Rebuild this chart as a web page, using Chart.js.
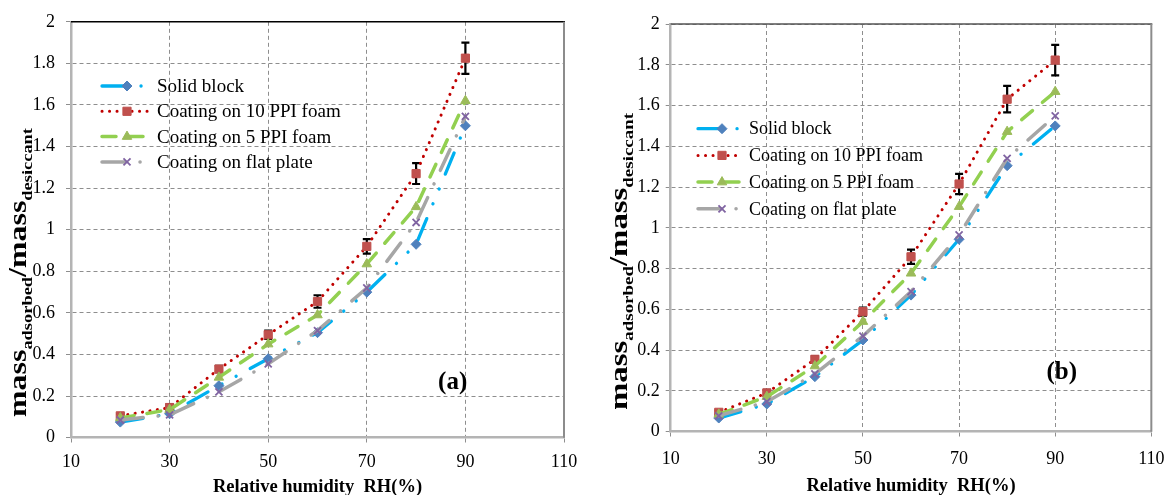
<!DOCTYPE html>
<html><head><meta charset="utf-8">
<script src="https://cdn.jsdelivr.net/npm/chart.js@4.4.1/dist/chart.umd.min.js"></script>
<style>
html,body{margin:0;padding:0;background:#fff;width:1176px;height:495px;overflow:hidden}
.box{position:absolute;top:0;height:495px}
#boxA{left:0;width:590px}
#boxB{left:590px;width:586px}
canvas{display:block}
</style></head><body>
<div class="box" id="boxA"><canvas id="chartA" width="590" height="495"></canvas></div>
<div class="box" id="boxB"><canvas id="chartB" width="586" height="495"></canvas></div>
<script>
// ---------- data ----------
const seriesNames = ['Solid block', 'Coating on 10 PPI foam', 'Coating on 5 PPI foam', 'Coating on flat plate'];
const rhValues = [20, 30, 40, 50, 60, 70, 80, 90];
const xTickLabels = ['10', '30', '50', '70', '90', '110'];
const yTickLabels = ['0', '0.2', '0.4', '0.6', '0.8', '1', '1.2', '1.4', '1.6', '1.8', '2'];
const xAxisTitle = 'Relative humidity  RH(%)';
const yTitleParts = ['mass', 'adsorbed', '/mass', 'desiccant'];
const panelLabels = ['(a)', '(b)'];

// panel (a)
const solidBlockA = [0.075, 0.115, 0.25, 0.38, 0.505, 0.70, 0.93, 1.50];
const foam10A     = [0.105, 0.145, 0.33, 0.495, 0.655, 0.92, 1.27, 1.825];
const foam5A      = [0.095, 0.135, 0.29, 0.45, 0.59, 0.835, 1.11, 1.62];
const flatPlateA  = [0.085, 0.11, 0.22, 0.355, 0.515, 0.72, 1.035, 1.545];
const foam10ErrA  = [0.01, 0.015, 0.015, 0.02, 0.03, 0.035, 0.05, 0.075];

// panel (b)
const solidBlockB = [0.067, 0.136, 0.27, 0.45, 0.67, 0.944, 1.305, 1.50];
const foam10B     = [0.095, 0.19, 0.355, 0.589, 0.858, 1.215, 1.631, 1.823];
const foam5B      = [0.085, 0.172, 0.322, 0.54, 0.777, 1.104, 1.472, 1.668];
const flatPlateB  = [0.078, 0.147, 0.283, 0.469, 0.687, 0.965, 1.341, 1.549];
const foam10ErrB  = [0.01, 0.015, 0.015, 0.02, 0.035, 0.05, 0.065, 0.075];

// ---------- styles ----------
const FONT = '"Liberation Serif", "DejaVu Serif", serif';
const styles = [
  {line:'#00B0F0', dash:[23,16,0.1,16,0.1,16], width:3.3, point:'rectRot', r:5, fill:'#4F81BD', stroke:'#4F81BD', pw:1},
  {line:'#C00000', dash:[0.1,7.4], width:3, point:'rect', r:5.8, fill:'#C0504D', stroke:'#C0504D', pw:1},
  {line:'#92D050', dash:[14,13], width:3.5, point:'triangle', r:5.5, fill:'#9BBB59', stroke:'#9BBB59', pw:1},
  {line:'#A6A6A6', dash:[23,15,0.1,15], width:3.5, point:'crossRot', r:5, fill:'#8064A2', stroke:'#8064A2', pw:1.8}
];

// ---------- plugins ----------
const errorBarPlugin = {
  id: 'errorBars',
  beforeDatasetsDraw(chart, args, o) {
    const c = chart.ctx, xs = chart.scales.x, ys = chart.scales.y;
    const vals = chart.data.datasets[o.seriesIndex].data;
    c.save();
    c.strokeStyle = '#000'; c.lineWidth = 2.2; c.setLineDash([]);
    vals.forEach((p, i) => {
      const e = o.errors[i];
      const px = xs.getPixelForValue(p.x);
      const yt = ys.getPixelForValue(p.y + e), yb = ys.getPixelForValue(p.y - e);
      c.beginPath();
      c.moveTo(px, yt); c.lineTo(px, yb);
      c.moveTo(px - 4, yt); c.lineTo(px + 4, yt);
      c.moveTo(px - 4, yb); c.lineTo(px + 4, yb);
      c.stroke();
    });
    c.restore();
  }
};

const framePlugin = {
  id: 'frame',
  beforeDatasetsDraw(chart, args, o) {
    const c = chart.ctx, a = chart.chartArea;
    c.save(); c.setLineDash([]);
    c.strokeStyle = o.topColor; c.lineWidth = 1.6;
    c.beginPath(); c.moveTo(a.left, a.top); c.lineTo(a.right + 1, a.top); c.stroke();
    c.strokeStyle = '#8C8C8C'; c.lineWidth = 2;
    c.beginPath(); c.moveTo(a.right, a.top); c.lineTo(a.right, a.bottom); c.stroke();
    c.restore();
  }
};

const legendPlugin = {
  id: 'boxLegend',
  afterDraw(chart, args, o) {
    const c = chart.ctx;
    chart.data.datasets.forEach((ds, i) => {
      const y = o.top + i * o.gap;
      c.save();
      c.strokeStyle = ds.borderColor; c.lineWidth = ds.borderWidth;
      c.setLineDash(ds.borderDash); c.lineCap = 'round';
      c.beginPath(); c.moveTo(o.x0, y); c.lineTo(o.x1, y); c.stroke();
      c.setLineDash([]); c.lineCap = 'butt';
      c.fillStyle = ds.pointBackgroundColor; c.strokeStyle = ds.pointBorderColor; c.lineWidth = ds.pointBorderWidth;
      Chart.helpers.drawPoint(c, {pointStyle: ds.pointStyle, radius: ds.pointRadius, rotation: 0, borderWidth: ds.pointBorderWidth}, o.xm, y);
      c.fillStyle = '#000'; c.font = o.size + 'px ' + FONT;
      c.textAlign = 'left'; c.textBaseline = 'middle';
      c.fillText(ds.label, o.tx, y + 1);
      c.restore();
    });
  }
};

const yTitlePlugin = {
  id: 'yTitle',
  afterDraw(chart, args, o) {
    const c = chart.ctx;
    const fm = 'bold ' + o.main + 'px ' + FONT, fs = 'bold ' + o.sub + 'px ' + FONT;
    c.save();
    const widths = yTitleParts.map((t, i) => { c.font = (i % 2) ? fs : fm; return c.measureText(t).width; });
    const total = widths.reduce((a, b) => a + b, 0);
    c.translate(o.x, o.yStart);
    c.rotate(-Math.PI / 2);
    c.scale(o.length / total, 1);
    c.fillStyle = '#000'; c.textBaseline = 'alphabetic'; c.textAlign = 'left';
    let x = 0;
    yTitleParts.forEach((t, i) => {
      c.font = (i % 2) ? fs : fm;
      c.fillText(t, x, (i % 2) ? o.subShift : 0);
      x += widths[i];
    });
    c.restore();
  }
};

const panelLabelPlugin = {
  id: 'panelLabel',
  afterDraw(chart, args, o) {
    const c = chart.ctx;
    c.save();
    c.fillStyle = '#000'; c.font = 'bold 25px ' + FONT;
    c.textAlign = 'center'; c.textBaseline = 'middle';
    c.fillText(o.text, o.x, o.y);
    c.restore();
  }
};

// ---------- factory ----------
function makeChart(id, series, errors, L) {
  const datasets = series.map((vals, i) => {
    const s = styles[i];
    return {
      label: seriesNames[i],
      data: rhValues.map((x, j) => ({x: x, y: vals[j]})),
      showLine: true, tension: 0, order: 3 - i,
      borderColor: s.line, borderWidth: s.width, borderDash: s.dash,
      borderCapStyle: 'round', borderJoinStyle: 'round',
      pointStyle: s.point, pointRadius: s.r, pointHoverRadius: s.r,
      pointBackgroundColor: s.fill, pointBorderColor: s.stroke, pointBorderWidth: s.pw
    };
  });
  return new Chart(document.getElementById(id), {
    type: 'scatter',
    data: {datasets: datasets},
    options: {
      responsive: false, animation: false, devicePixelRatio: 1,
      layout: {padding: {left: 0, top: L.top, right: L.right, bottom: 0}},
      plugins: {
        legend: {display: false}, tooltip: {enabled: false},
        errorBars: {errors: errors, seriesIndex: 1},
        frame: {topColor: L.topColor},
        boxLegend: L.legend,
        yTitle: L.yTitle,
        panelLabel: L.panel
      },
      scales: {
        x: {
          type: 'linear', min: 10, max: 110,
          afterFit: s => { s.height = L.xHeight; },
          ticks: {stepSize: 20, autoSkip: false, maxRotation: 0, padding: L.xPad, color: '#000',
                  font: {family: FONT, size: 18},
                  callback: (v, i) => xTickLabels[i]},
          grid: {color: '#8E8E8E', lineWidth: 1, tickLength: 5, tickColor: '#8E8E8E', tickBorderDash: [4, 3]},
          border: {display: true, color: '#B4B4B4', width: 2.5, dash: [4, 3]},
          title: {display: true, text: xAxisTitle, color: '#000',
                  font: {family: FONT, size: 18.5, weight: 'bold', lineHeight: L.titleLH},
                  padding: {top: 0, bottom: 0}}
        },
        y: {
          type: 'linear', min: 0, max: 2,
          afterFit: s => { s.width = L.yWidth; },
          ticks: {stepSize: 0.2, autoSkip: false, padding: L.yPad, color: '#000',
                  font: {family: FONT, size: 18},
                  callback: (v, i) => yTickLabels[i]},
          grid: {color: '#8E8E8E', lineWidth: 1, tickLength: 5, tickColor: '#8E8E8E', tickBorderDash: [4, 3]},
          border: {display: true, color: '#B4B4B4', width: 2.5, dash: [4, 3]}
        }
      }
    },
    plugins: [errorBarPlugin, framePlugin, legendPlugin, yTitlePlugin, panelLabelPlugin]
  });
}

function build() {
  makeChart('chartA', [solidBlockA, foam10A, foam5A, flatPlateA], foam10ErrA, {
    top: 20.7, right: 26, xHeight: 57.3, yWidth: 71, xPad: 8.5, yPad: 11, titleLH: 0.85,
    topColor: '#000',
    legend: {x0: 102, x1: 150, xm: 127, tx: 157, top: 86, gap: 25.3, size: 19},
    yTitle: {x: 26, yStart: 417, length: 289, main: 26, sub: 15, subShift: 6},
    panel: {text: panelLabels[0], x: 452.7, y: 383}
  });
  makeChart('chartB', [solidBlockB, foam10B, foam5B, flatPlateB], foam10ErrB, {
    top: 24, right: 17, xHeight: 63.3, yWidth: 80.7, xPad: 11.5, yPad: 6, titleLH: 1,
    topColor: '#555',
    legend: {x0: 108, x1: 152, xm: 132, tx: 159, top: 128.7, gap: 26.7, size: 18},
    yTitle: {x: 37, yStart: 410, length: 297, main: 26, sub: 15, subShift: 6},
    panel: {text: panelLabels[1], x: 471.7, y: 373}
  });
}
if (document.fonts && document.fonts.load) {
  Promise.all([
    document.fonts.load('18px "Liberation Serif"'),
    document.fonts.load('bold 18px "Liberation Serif"')
  ]).then(build, build);
} else { build(); }
</script>
</body></html>
